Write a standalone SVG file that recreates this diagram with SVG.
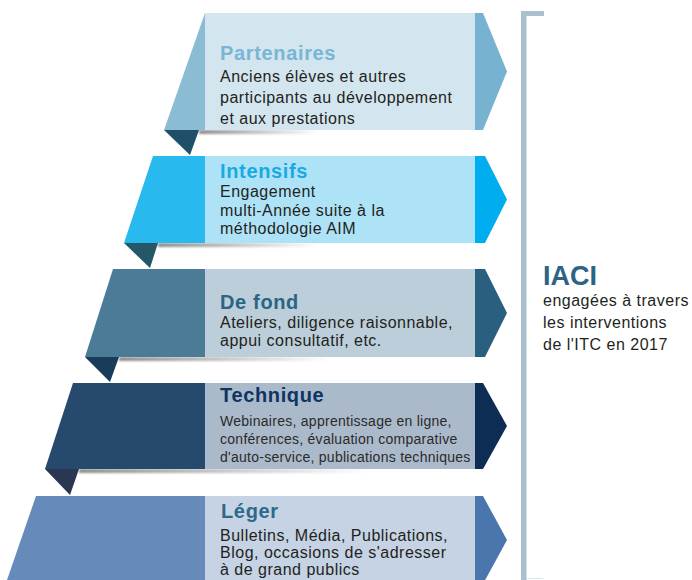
<svg xmlns="http://www.w3.org/2000/svg" width="692" height="580" viewBox="0 0 692 580">
<defs>
<linearGradient id="shad" x1="0" y1="0" x2="1" y2="0">
<stop offset="0" stop-color="#000" stop-opacity="0.45"/>
<stop offset="0.45" stop-color="#000" stop-opacity="0.25"/>
<stop offset="1" stop-color="#000" stop-opacity="0"/>
</linearGradient>
<filter id="blur" x="-0.1" y="-2" width="1.2" height="5"><feGaussianBlur stdDeviation="1.2"/></filter>
</defs>
<style>
.title{font-family:"Liberation Sans",Arial,sans-serif;font-weight:bold;font-size:20px;letter-spacing:0.65px}
.body{font-family:"Liberation Sans",Arial,sans-serif;font-size:16px;letter-spacing:0.5px;fill:#231f20}
.small{font-family:"Liberation Sans",Arial,sans-serif;font-size:14px;letter-spacing:0.27px;fill:#2a2a2a}
.shadow{fill:url(#shad);filter:url(#blur)}
</style>
<rect width="692" height="580" fill="#ffffff"/>

<g id="partenaires">
<rect class="shadow" x="199" y="130" width="120" height="4"/>
<polygon points="205,13 205,130 164,130" fill="#8abcd4"/>
<rect x="205" y="13" width="270" height="117" fill="#d3e5ef"/>
<polygon points="475,13 483,13 507,71.5 483,130 475,130" fill="#77b3d0"/>
<polygon points="164,130 199,130 190,155" fill="#1e5069"/>
<text class="title" x="220" y="60" fill="#79b6d4">Partenaires</text>
<text class="body" x="220" y="82">Anciens élèves et autres</text>
<text class="body" x="220" y="103">participants au développement</text>
<text class="body" x="220" y="124">et aux prestations</text>
</g>

<g id="intensifs">
<rect class="shadow" x="158" y="243" width="160" height="4"/>
<polygon points="153,156 205,156 205,243 124,243" fill="#28b9ee"/>
<rect x="205" y="156" width="270" height="87" fill="#aee2f7"/>
<polygon points="475,156 485,156 507,199.5 485,243 475,243" fill="#00adee"/>
<polygon points="124,243 158,243 150,268" fill="#245868"/>
<text class="title" x="220" y="178" fill="#18aae4">Intensifs</text>
<text class="body" x="220" y="197">Engagement</text>
<text class="body" x="220" y="215.5">multi-Année suite à la</text>
<text class="body" x="220" y="234">méthodologie AIM</text>
</g>

<g id="defond">
<rect class="shadow" x="119" y="357" width="210" height="4"/>
<polygon points="113,269 205,269 205,357 85,357" fill="#4c7b98"/>
<rect x="205" y="269" width="270" height="88" fill="#bbced9"/>
<polygon points="475,269 485,269 507,313 485,357 475,357" fill="#2b5f80"/>
<polygon points="85,357 119,357 110,382" fill="#1a3c5b"/>
<text class="title" x="220" y="309" fill="#2c6485">De fond</text>
<text class="body" x="220" y="328">Ateliers, diligence raisonnable,</text>
<text class="body" x="220" y="346">appui consultatif, etc.</text>
</g>

<g id="technique">
<rect class="shadow" x="79" y="469" width="290" height="4"/>
<polygon points="73,383 205,383 205,469 45,469" fill="#264a6e"/>
<rect x="205" y="383" width="270" height="86" fill="#aabaca"/>
<polygon points="475,383 483,383 507,426 483,469 475,469" fill="#0d2d55"/>
<polygon points="45,469 79,469 70,495" fill="#2b3650"/>
<text class="title" x="220" y="402" fill="#0e3463">Technique</text>
<text class="small" x="220" y="425.5">Webinaires, apprentissage en ligne,</text>
<text class="small" x="220" y="443.5">conférences, évaluation comparative</text>
<text class="small" x="220" y="461.5">d'auto-service, publications techniques</text>
</g>

<g id="leger">
<polygon points="36,496 205,496 205,580 7,580" fill="#668bba"/>
<rect x="205" y="496" width="270" height="84" fill="#c5d3e4"/>
<polygon points="475,496 483,496 507,540 483,584 475,584" fill="#4b76ad"/>
<text class="title" x="221" y="518" fill="#2c6a8d">Léger</text>
<text class="body" x="220" y="541">Bulletins, Média, Publications,</text>
<text class="body" x="220" y="558">Blog, occasions de s'adresser</text>
<text class="body" x="220" y="574.5">à de grand publics</text>
</g>

<g id="iaci">
<rect x="521" y="11" width="5.5" height="569" fill="#a9c0cf"/>
<rect x="521" y="11" width="23" height="5" fill="#a9c0cf"/>
<line x1="527" y1="578.5" x2="543" y2="578.5" stroke="#dfe7ee" stroke-width="1"/>
<text x="543" y="285" fill="#2c6485" style="font-family:'Liberation Sans',Arial,sans-serif;font-weight:bold;font-size:27px">IACI</text>
<text class="body" x="543" y="306">engagées à travers</text>
<text class="body" x="543" y="328">les interventions</text>
<text class="body" x="543" y="350">de l'ITC en 2017</text>
</g>

<g id="connectors"></g>
</svg>
